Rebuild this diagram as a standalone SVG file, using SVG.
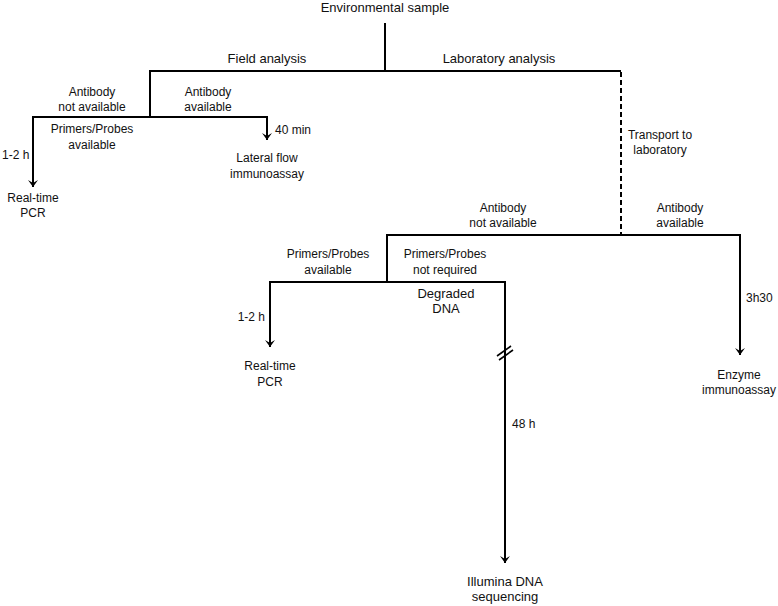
<svg xmlns="http://www.w3.org/2000/svg" width="778" height="606" viewBox="0 0 778 606">
<defs>
<marker id="ah" markerWidth="12" markerHeight="12" refX="6" refY="10" orientation="auto" markerUnits="userSpaceOnUse" viewBox="0 0 12 12">
<path d="M1,3 L6,10 L11,3 L6,6 Z" fill="#000"/>
</marker>
<style>
.ln{stroke:#000;stroke-width:2;fill:none}
.da{stroke:#000;stroke-width:2;fill:none;stroke-dasharray:5,3}
.a{font-family:"Liberation Sans",Arial,sans-serif;font-size:13px;fill:#111;text-anchor:middle}
.c{font-family:"Liberation Sans",Arial,sans-serif;font-size:12px;fill:#111;text-anchor:middle}
.s{text-anchor:start}
.e{text-anchor:end}
</style>
</defs>
<rect width="778" height="606" fill="#fff"/>
<g id="connectors">
<line class="ln" x1="385" y1="23" x2="385" y2="71"/>
<line class="ln" x1="149" y1="71" x2="621" y2="71"/>
<line class="ln" x1="150" y1="70" x2="150" y2="117"/>
<line class="ln" x1="32" y1="117" x2="268" y2="117"/>
<line class="ln" x1="33" y1="116" x2="33" y2="187" marker-end="url(#ah)"/>
<line class="ln" x1="267" y1="116" x2="267" y2="140" marker-end="url(#ah)"/>
<line class="da" x1="621" y1="72" x2="621" y2="235"/>
<line class="ln" x1="386" y1="235" x2="741" y2="235"/>
<line class="ln" x1="740" y1="234" x2="740" y2="355" marker-end="url(#ah)"/>
<line class="ln" x1="387" y1="234" x2="387" y2="282"/>
<line class="ln" x1="269" y1="282" x2="506" y2="282"/>
<line class="ln" x1="270" y1="281" x2="270" y2="347" marker-end="url(#ah)"/>
<line class="ln" x1="505" y1="281" x2="505" y2="563" marker-end="url(#ah)"/>
<line x1="497" y1="356" x2="511" y2="346" stroke="#000" stroke-width="1.6"/>
<line x1="499" y1="360" x2="513" y2="350" stroke="#000" stroke-width="1.6"/>
</g>
<g id="root"><text class="a" x="385" y="12">Environmental sample</text></g>
<g id="field"><text class="a" x="267" y="63">Field analysis</text></g>
<g id="lab"><text class="a" x="499" y="63">Laboratory analysis</text></g>
<g id="f-ab-no"><text class="c" x="92" y="96">Antibody</text><text class="c" x="92" y="111">not available</text></g>
<g id="f-ab-yes"><text class="c" x="208" y="96">Antibody</text><text class="c" x="208" y="111">available</text></g>
<g id="f-primers"><text class="c" x="92" y="133">Primers/Probes</text><text class="c" x="92" y="149">available</text></g>
<g id="f-40"><text class="c s" x="275" y="134">40 min</text></g>
<g id="f-12"><text class="c s" x="2" y="159">1-2 h</text></g>
<g id="lfia"><text class="c" x="267" y="162">Lateral flow</text><text class="c" x="267" y="178">immunoassay</text></g>
<g id="f-pcr"><text class="c" x="33" y="202">Real-time</text><text class="c" x="33" y="217">PCR</text></g>
<g id="transport"><text class="c" x="660" y="139">Transport to</text><text class="c" x="660" y="154">laboratory</text></g>
<g id="l-ab-no"><text class="c" x="503" y="212">Antibody</text><text class="c" x="503" y="227">not available</text></g>
<g id="l-ab-yes"><text class="c" x="680" y="212">Antibody</text><text class="c" x="680" y="227">available</text></g>
<g id="l-primers"><text class="c" x="328" y="258">Primers/Probes</text><text class="c" x="328" y="274">available</text></g>
<g id="l-notreq"><text class="c" x="445" y="258">Primers/Probes</text><text class="c" x="445" y="274">not required</text></g>
<g id="degraded"><text class="a" x="446" y="298">Degraded</text><text class="a" x="446" y="313">DNA</text></g>
<g id="l-12"><text class="c e" x="265" y="321">1-2 h</text></g>
<g id="l-pcr"><text class="c" x="270" y="370">Real-time</text><text class="c" x="270" y="386">PCR</text></g>
<g id="l-3h30"><text class="c s" x="746" y="302">3h30</text></g>
<g id="eia"><text class="c" x="739" y="379">Enzyme</text><text class="c" x="739" y="394">immunoassay</text></g>
<g id="l-48"><text class="a s" x="512" y="428" style="font-size:12px">48 h</text></g>
<g id="illumina"><text class="a" x="505" y="586">Illumina DNA</text><text class="a" x="505" y="601">sequencing</text></g>
</svg>
